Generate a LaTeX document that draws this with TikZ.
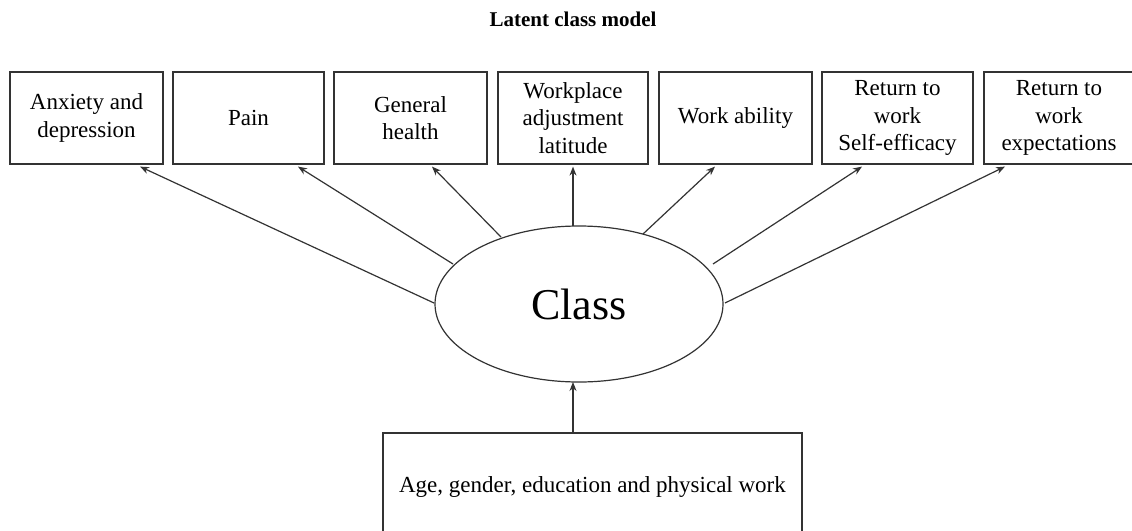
\documentclass[tikz,border=0pt]{standalone}
\usepackage{fontspec}
\setmainfont{Liberation Serif}
\usetikzlibrary{shapes.geometric,arrows.meta,calc}
\begin{document}
\begin{tikzpicture}[x=1pt,y=-1pt,
  ln/.style={line width=1.2pt,draw=black!80},
  obox/.style={ln,rectangle,minimum height=92pt,inner sep=0pt,align=center,
    font=\fontsize{23}{27.5}\selectfont},
  arr/.style={line width=1.2pt,draw=black!80,-{Stealth[length=9pt,width=7pt]}}]
\clip (0,0) rectangle (1132,530);
\fill[white] (0,0) rectangle (1132,530);
\node[font=\bfseries\fontsize{21}{25}\selectfont,anchor=base] (title) at (573,26) {Latent class model};
\node[obox,minimum width=153pt] (b1) at (86.5,118) {Anxiety and\\depression};
\node[obox,minimum width=151pt] (b2) at (248.5,118) {Pain};
\node[obox,minimum width=153pt] (b3) at (410.5,118) {General\\health};
\node[obox,minimum width=150pt] (b4) at (573,118) {Workplace\\adjustment\\latitude};
\node[obox,minimum width=153pt] (b5) at (735.5,118) {Work ability};
\node[obox,minimum width=151pt] (b6) at (897.5,118) {Return to\\work\\Self-efficacy};
\node[obox,minimum width=150pt] (b7) at (1059,118) {Return to\\work\\expectations};
\node[ln,ellipse,minimum width=288pt,minimum height=156pt,inner sep=0pt,
  font=\fontsize{44}{50}\selectfont] (cls) at (579,304) {Class};
\node[ln,rectangle,minimum width=419pt,minimum height=108pt,inner sep=0pt,
  font=\fontsize{23}{27.5}\selectfont] (cov) at (592.5,487) {Age, gender, education and physical work};
\coordinate (s1) at (434,303);
\coordinate (s2) at (453,264);
\coordinate (s3) at (501,237);
\coordinate (s4) at (573,226);
\coordinate (s5) at (643,234);
\coordinate (s6) at (713,264);
\coordinate (s7) at (725,303);
\coordinate (s8) at (573,433);
\coordinate (e8) at (573,382);
\draw[arr] (s1) -- ([xshift=53.5pt,yshift=-2pt]b1.south);
\draw[arr] (s2) -- ([xshift=49.5pt,yshift=-2pt]b2.south);
\draw[arr] (s3) -- ([xshift=21.5pt,yshift=-2pt]b3.south);
\draw[arr] (s4) -- ([yshift=-2pt]b4.south);
\draw[arr] (s5) -- ([xshift=-20.5pt,yshift=-2pt]b5.south);
\draw[arr] (s6) -- ([xshift=-35.5pt,yshift=-2pt]b6.south);
\draw[arr] (s7) -- ([xshift=-54pt,yshift=-2pt]b7.south);
\draw[arr] (cov.north -| s8) -- (e8);
\end{tikzpicture}
\end{document}
